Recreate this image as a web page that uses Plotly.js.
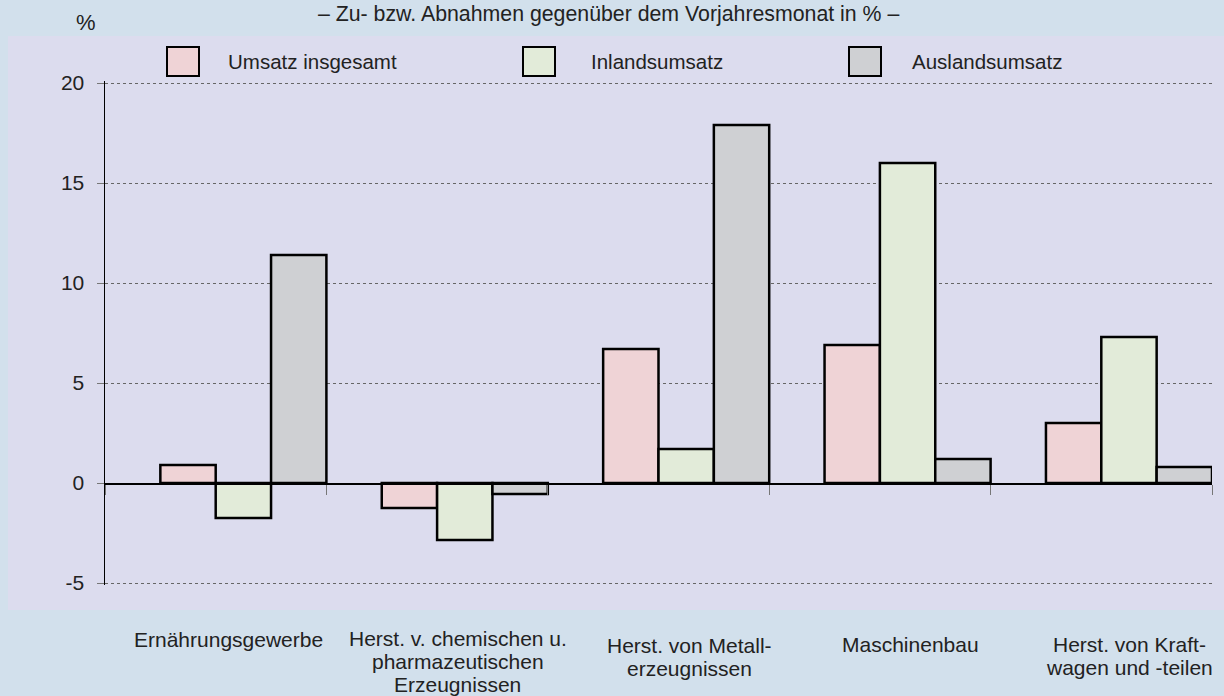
<!DOCTYPE html>
<html>
<head>
<meta charset="utf-8">
<script src="https://cdn.plot.ly/plotly-3.0.1.min.js"></script>
<style>html,body{margin:0;padding:0;background:#d2e0ec;}#chart{width:1224px;height:696px;}</style>
</head>
<body>
<div id="chart"></div>
<script>
const categories = [
  "Ernährungsgewerbe",
  "Herst. v. chemischen u.<br>pharmazeutischen<br>Erzeugnissen",
  "Herst. von Metall-<br>erzeugnissen",
  "Maschinenbau",
  "Herst. von Kraft-<br>wagen und -teilen"
];
const seriesNames = ["Umsatz insgesamt", "Inlandsumsatz", "Auslandsumsatz"];
const umsatzInsgesamt = [0.9, -1.25, 6.7, 6.9, 3.0];
const inlandsumsatz = [-1.75, -2.85, 1.7, 16.0, 7.3];
const auslandsumsatz = [11.4, -0.55, 17.9, 1.2, 0.8];
const yTicks = [-5, 0, 5, 10, 15, 20];
const yTickLabels = ["-5", "0", "5", "10", "15", "20"];
const titleText = "– Zu- bzw. Abnahmen gegenüber dem Vorjahresmonat in % –";
const unitText = "%";

const colors = ["#efd3d6", "#e2ebd9", "#cfd0d3"];
const seriesValues = [umsatzInsgesamt, inlandsumsatz, auslandsumsatz];
const offsets = [-0.25, 0, 0.25];
const xIdx = categories.map((c, i) => i);

const FONT = "Liberation Sans, Arial, sans-serif";
const TXT = "#222222";
const FS = 21;

const traces = seriesValues.map((vals, s) => ({
  type: "bar",
  x: xIdx,
  y: vals,
  name: seriesNames[s],
  width: 0.25,
  offset: offsets[s],
  marker: {color: colors[s], line: {color: "#000", width: 2.5}},
  hoverinfo: "y+name"
}));

// plot area: y=20 at 83px, y=-5 at 583px; range padded by 0.1 unit (2px) each side
const L = 105, R = 1212, T = 81, B = 585, W = 1224, H = 696;
const px = x => (x - L) / (R - L);
const py = y => (B - y) / (B - T);

const shapes = [
  {type: "rect", xref: "paper", yref: "paper", x0: px(8), x1: px(1240), y0: py(610), y1: py(36),
   fillcolor: "#dcdcee", line: {width: 0}, layer: "below"}
];
const annotations = [
  {text: titleText, xref: "paper", yref: "paper", x: px(608), y: py(0), xanchor: "center", yanchor: "top",
   showarrow: false, font: {family: FONT, size: 21.3, color: TXT}},
  {text: unitText, xref: "paper", yref: "paper", x: px(86), y: py(23), xanchor: "center", yanchor: "middle",
   showarrow: false, font: {family: FONT, size: 22, color: TXT}}
];
const legendBoxX = [167, 523, 849];
const legendTextX = [226, 589, 910];
seriesNames.forEach((n, s) => {
  shapes.push({type: "rect", xref: "paper", yref: "paper", x0: px(legendBoxX[s]), x1: px(legendBoxX[s] + 32),
    y0: py(76), y1: py(47), fillcolor: colors[s], line: {color: "#000", width: 2}});
  annotations.push({text: n, xref: "paper", yref: "paper", x: px(legendTextX[s]), y: py(62),
    xanchor: "left", yanchor: "middle", showarrow: false, font: {family: FONT, size: 20.5, color: TXT}});
});
const labelTop = [626, 625, 632, 631, 631];
const labelDx = [0.057, 0.093, 0.142, 0.137, 0.128];
const lineStep = 23;
categories.forEach((c, i) => {
  c.split("<br>").forEach((line, k) => {
    annotations.push({text: line, xref: "x", yref: "paper", x: i + labelDx[i], y: py(labelTop[i] + k * lineStep),
      xanchor: "center", yanchor: "top", showarrow: false, align: "center",
      font: {family: FONT, size: FS, color: TXT}});
  });
});

const layout = {
  width: W, height: H,
  paper_bgcolor: "#d2e0ec",
  plot_bgcolor: "rgba(0,0,0,0)",
  margin: {l: L, r: W - R, t: T, b: H - B, pad: 0},
  barmode: "overlay",
  showlegend: false,
  xaxis: {
    type: "linear",
    range: [-0.5, 4.5],
    tickvals: [-0.5, 0.5, 1.5, 2.5, 3.5, 4.5],
    showticklabels: false,
    ticks: "outside", ticklen: 10, tickcolor: "#777", tickwidth: 1,
    showgrid: false, zeroline: false,
    showline: true, linecolor: "#000", linewidth: 1.5,
    anchor: "free", position: 0.2,
    fixedrange: true
  },
  yaxis: {
    range: [-5.1, 20.1],
    tickvals: yTicks,
    ticktext: yTickLabels,
    ticks: "outside", ticklen: 7, tickcolor: "#777", tickwidth: 1,
    ticklabelstandoff: 8,
    tickfont: {family: FONT, size: FS, color: TXT},
    showgrid: true, gridcolor: "#666", griddash: "dot", gridwidth: 1,
    zeroline: false,
    showline: true, linecolor: "#000", linewidth: 1.5,
    fixedrange: true
  },
  shapes: shapes,
  annotations: annotations
};
// x axis line sits on y = 0
layout.xaxis.position = (0 - layout.yaxis.range[0]) / (layout.yaxis.range[1] - layout.yaxis.range[0]);

Plotly.newPlot("chart", traces, layout, {displayModeBar: false, staticPlot: true});
</script>
</body>
</html>
